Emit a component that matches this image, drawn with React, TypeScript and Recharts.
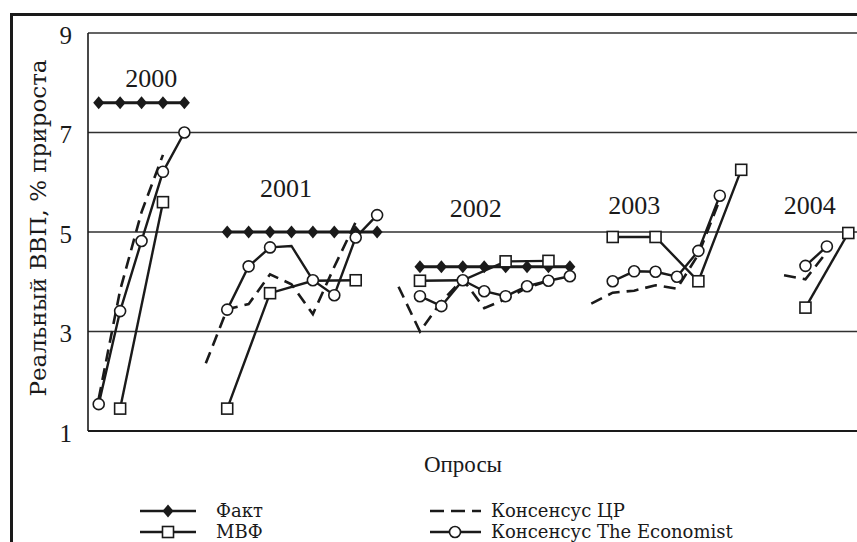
import React from 'react';
import {
  CartesianGrid,
  Line,
  LineChart,
  ReferenceDot,
  XAxis,
  YAxis,
} from 'recharts';

// 36 surveys along the x axis, grouped by forecast year
const surveyCount = 36;
const surveyTicks = Array.from({ length: surveyCount + 1 }, (_, i) => i);
const growthTicks = [1, 3, 5, 7, 9];

// forecast year labels: [year, survey position, growth level]
const yearLabels: [string, number, number][] = [
  ['2000', 2.95, 8.1],
  ['2001', 9.25, 5.88],
  ['2002', 18.1, 5.48],
  ['2003', 25.5, 5.55],
  ['2004', 33.7, 5.55],
];

// each run: first survey index, then one value per survey (null = no estimate)
type Run = { start: number; values: (number | null)[] };

const factRuns: Run[] = [
  { start: 0, values: [7.6, 7.6, 7.6, 7.6, 7.6] },
  { start: 6, values: [5, 5, 5, 5, 5, 5, 5, 5] },
  { start: 15, values: [4.3, 4.3, 4.3, 4.3, 4.3, 4.3, 4.3, 4.3] },
];

const imfRuns: Run[] = [
  { start: 1, values: [1.45, null, 5.6] },
  { start: 6, values: [1.45, null, 3.77, null, 4.02, null, 4.03] },
  { start: 15, values: [4.02, null, 4.03, null, 4.41, null, 4.42] },
  { start: 24, values: [4.9, null, 4.9, null, 4.01, null, 6.25] },
  { start: 33, values: [3.48, null, 4.98] },
];

const cbrRuns: Run[] = [
  { start: 0, values: [1.65, 3.83, 5.4, 6.55] },
  { start: 5, values: [2.36, 3.45, 3.55, 4.15, 3.95, 3.35, 4.3, 5.2] },
  { start: 14, values: [3.9, 3.0, 3.6, 4.05, 3.47, 3.65, 3.88, 4.02] },
  { start: 23, values: [3.56, 3.78, 3.82, 3.93, 3.86, 4.55, 5.65] },
  { start: 32, values: [4.13, 4.05, 4.6] },
];

const ecoRuns: Run[] = [
  { start: 0, values: [1.54, 3.41, 4.82, 6.21, 7.0] },
  { start: 6, values: [3.44, 4.31, 4.69, 4.72, 4.03, 3.73, 4.89, 5.34] },
  { start: 15, values: [3.71, 3.51, 4.03, 3.81, 3.71, 3.91, 4.02, 4.11] },
  { start: 24, values: [4.01, 4.21, 4.2, 4.1, 4.62, 5.73] },
  { start: 33, values: [4.32, 4.71] },
];

// surveys where the marker is not drawn in the original
const imfNoMarker = [10, 17];
const ecoNoMarker = [9];

const INK = '#1a1a1a';
const FONT = '"Liberation Serif", "Times New Roman", serif';
const WIDE_FONT = '"DejaVu Serif", serif';

const toPoints = (run: Run) =>
  run.values
    .map((v, k) => ({ x: run.start + k + 0.5, y: v }))
    .filter((p) => p.y !== null);

const skip = (list: number[], payload: any) =>
  payload && list.includes(Math.round(payload.x - 0.5));

const diamondDot = (props: any) => {
  const { cx, cy, index } = props;
  return (
    <path
      key={`d${cx}-${index}`}
      d={`M${cx},${cy - 6.5}L${cx + 5.5},${cy}L${cx},${cy + 6.5}L${cx - 5.5},${cy}Z`}
      fill={INK}
    />
  );
};

const squareDot = (props: any) => {
  const { cx, cy, index, payload } = props;
  if (skip(imfNoMarker, payload)) return <g key={`s${cx}-${index}`} />;
  return (
    <rect
      key={`s${cx}-${index}`}
      x={cx - 5.5}
      y={cy - 5.5}
      width={11}
      height={11}
      fill='#fff'
      stroke={INK}
      strokeWidth={1.6}
    />
  );
};

const circleDot = (props: any) => {
  const { cx, cy, index, payload } = props;
  if (skip(ecoNoMarker, payload)) return <g key={`c${cx}-${index}`} />;
  return (
    <circle
      key={`c${cx}-${index}`}
      cx={cx}
      cy={cy}
      r={5.5}
      fill='#fff'
      stroke={INK}
      strokeWidth={1.6}
    />
  );
};

const YTitle = (props: any) => {
  const vb = props.viewBox || { x: 0, y: 33, width: 88, height: 398 };
  const cx = 38;
  const cy = vb.y + vb.height / 2 - 4;
  return (
    <text
      x={cx}
      y={cy}
      transform={`rotate(-90 ${cx} ${cy})`}
      textAnchor='middle'
      dominantBaseline='central'
      fontFamily={WIDE_FONT}
      fontSize={23}
      fill={INK}
    >
      Реальный ВВП, % прироста
    </text>
  );
};

const XTitle = () => (
  <text
    x={463}
    y={472}
    textAnchor='middle'
    fontFamily={FONT}
    fontSize={23}
    fill={INK}
  >
    Опросы
  </text>
);

const LegendBlock = () => (
  <svg
    width={857}
    height={542}
    style={{ position: 'absolute', left: 0, top: 0, pointerEvents: 'none' }}
  >
    <g fontFamily={WIDE_FONT} fontSize={18} fill={INK}>
      <line x1={140} x2={196} y1={511} y2={511} stroke={INK} strokeWidth={2.5} />
      <path d='M168,504.5L173.5,511L168,517.5L162.5,511Z' fill={INK} />
      <text x={216} y={517}>Факт</text>

      <line x1={140} x2={196} y1={532} y2={532} stroke={INK} strokeWidth={2.5} />
      <rect x={162.5} y={526.5} width={11} height={11} fill='#fff' stroke={INK} strokeWidth={1.6} />
      <text x={216} y={538}>МВФ</text>

      <line
        x1={430}
        x2={481}
        y1={511}
        y2={511}
        stroke={INK}
        strokeWidth={2.5}
        strokeDasharray='14 7'
      />
      <text x={491} y={517}>Консенсус ЦР</text>

      <line x1={430} x2={481} y1={532} y2={532} stroke={INK} strokeWidth={2.5} />
      <circle cx={455} cy={532} r={5.5} fill='#fff' stroke={INK} strokeWidth={1.6} />
      <text x={491} y={538}>Консенсус The Economist</text>
    </g>
  </svg>
);

export default function App() {
  return (
    <div
      style={{
        position: 'absolute',
        left: 0,
        top: 0,
        width: 857,
        height: 542,
        overflow: 'hidden',
        background: '#fff',
      }}
    >
      <div
        style={{
          position: 'absolute',
          left: 10,
          top: 13,
          width: 900,
          height: 600,
          borderLeft: `3px solid ${INK}`,
          borderTop: `3px solid ${INK}`,
        }}
      />
      <div style={{ position: 'absolute', left: 0, top: 0 }}>
        <LineChart
          width={870}
          height={542}
          margin={{ top: 33, right: 11, bottom: 91, left: 0 }}
        >
          <CartesianGrid
            vertical={false}
            stroke={INK}
            strokeWidth={1.4}
            strokeOpacity={0.9}
          />
          <XAxis
            type='number'
            dataKey='x'
            domain={[0, surveyCount]}
            ticks={surveyTicks}
            tick={false}
            tickSize={-7}
            height={20}
            axisLine={{ stroke: INK, strokeWidth: 2 }}
            tickLine={{ stroke: INK, strokeWidth: 1.6 }}
            allowDataOverflow
            label={<XTitle />}
          />
          <YAxis
            type='number'
            domain={[1, 9]}
            ticks={growthTicks}
            width={88}
            tickLine={false}
            tickMargin={10}
            axisLine={{ stroke: INK, strokeWidth: 1.6 }}
            tick={{ fill: INK, fontSize: 25, fontFamily: FONT, dy: 2 }}
            label={<YTitle />}
          />

          {factRuns.map((run, i) => (
            <Line
              key={`fact${i}`}
              data={toPoints(run)}
              dataKey='y'
              stroke={INK}
              strokeWidth={3}
              dot={diamondDot}
              activeDot={false}
              isAnimationActive={false}
            />
          ))}
          {cbrRuns.map((run, i) => (
            <Line
              key={`cbr${i}`}
              data={toPoints(run)}
              dataKey='y'
              stroke={INK}
              strokeWidth={2.6}
              strokeDasharray='12 7'
              dot={false}
              activeDot={false}
              isAnimationActive={false}
            />
          ))}
          {imfRuns.map((run, i) => (
            <Line
              key={`imf${i}`}
              data={toPoints(run)}
              dataKey='y'
              stroke={INK}
              strokeWidth={2.4}
              dot={squareDot}
              activeDot={false}
              isAnimationActive={false}
            />
          ))}
          {ecoRuns.map((run, i) => (
            <Line
              key={`eco${i}`}
              data={toPoints(run)}
              dataKey='y'
              stroke={INK}
              strokeWidth={2.4}
              dot={circleDot}
              activeDot={false}
              isAnimationActive={false}
            />
          ))}

          {yearLabels.map(([year, x, y]) => (
            <ReferenceDot
              key={year}
              x={x}
              y={y}
              r={1}
              fill='none'
              stroke='none'
              label={{
                value: year,
                position: 'center',
                fontSize: 26,
                fontFamily: FONT,
                fill: INK,
              }}
            />
          ))}
        </LineChart>
      </div>
      <LegendBlock />
    </div>
  );
}
